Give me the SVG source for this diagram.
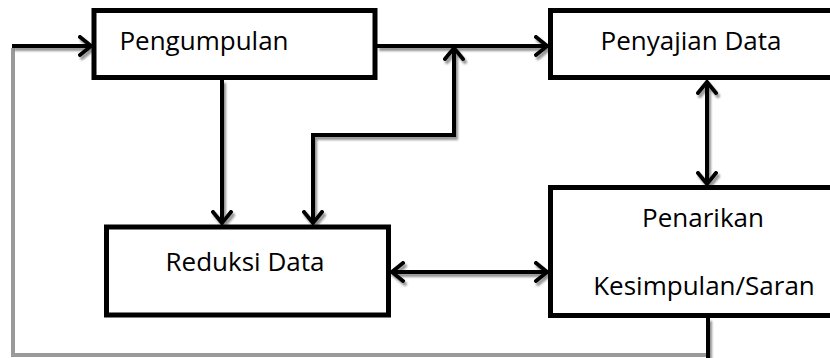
<svg xmlns="http://www.w3.org/2000/svg" width="830" height="358" viewBox="0 0 830 358">
  <style>
    .box { fill: #fff; stroke: #000; stroke-width: 5; }
    .lbl { font-family: "Open Sans", "Liberation Sans", sans-serif; font-size: 26px; fill: #000; text-anchor: middle; }
    .con { fill: none; stroke: #000; stroke-width: 4; }
    .fb { fill: none; stroke: #9a9a9a; stroke-width: 4; }
  </style>
  <defs>
    <marker id="ah" viewBox="0 0 16 22" refX="13" refY="11" markerWidth="16" markerHeight="22" orient="auto-start-reverse" markerUnits="userSpaceOnUse">
      <path d="M2,2 L13,11 L2,20" fill="none" stroke="#000" stroke-width="4" stroke-linecap="round" stroke-linejoin="miter"/>
    </marker>
    <filter id="sh" x="-10%" y="-10%" width="120%" height="120%">
      <feDropShadow dx="2" dy="3" stdDeviation="1" flood-color="#777" flood-opacity="0.8"/>
    </filter>
  </defs>
  <rect width="830" height="358" fill="#fff"/>

  <g id="connectors">
    <path class="fb" d="M706,355 L13,355 L13,48"/>
    <g filter="url(#sh)">
      <line class="con" x1="708" y1="318" x2="708" y2="358"/>
      <line class="con" x1="12" y1="46" x2="91" y2="46" marker-end="url(#ah)"/>
      <line class="con" x1="377" y1="46" x2="547" y2="46" marker-end="url(#ah)"/>
      <path class="con" d="M313,223 L313,135 L454,135 L454,48" marker-start="url(#ah)" marker-end="url(#ah)"/>
      <line class="con" x1="222" y1="80" x2="222" y2="223" marker-end="url(#ah)"/>
      <line class="con" x1="707" y1="82" x2="707" y2="184" marker-start="url(#ah)" marker-end="url(#ah)"/>
      <line class="con" x1="392" y1="272" x2="547" y2="272" marker-start="url(#ah)" marker-end="url(#ah)"/>
    </g>
  </g>

  <g id="pengumpulan">
    <rect class="box" x="94" y="10.5" width="281" height="67"/>
    <text class="lbl" x="204" y="50">Pengumpulan</text>
  </g>
  <g id="penyajian">
    <rect class="box" x="550.5" y="10.5" width="290" height="67"/>
    <text class="lbl" x="691" y="50">Penyajian Data</text>
  </g>
  <g id="reduksi">
    <rect class="box" x="106.5" y="227" width="282" height="88"/>
    <text class="lbl" x="245" y="271">Reduksi Data</text>
  </g>
  <g id="penarikan">
    <rect class="box" x="550.5" y="187.5" width="290" height="128"/>
    <text class="lbl" x="703" y="227">Penarikan</text>
    <text class="lbl" x="704" y="295">Kesimpulan/Saran</text>
  </g>
</svg>
